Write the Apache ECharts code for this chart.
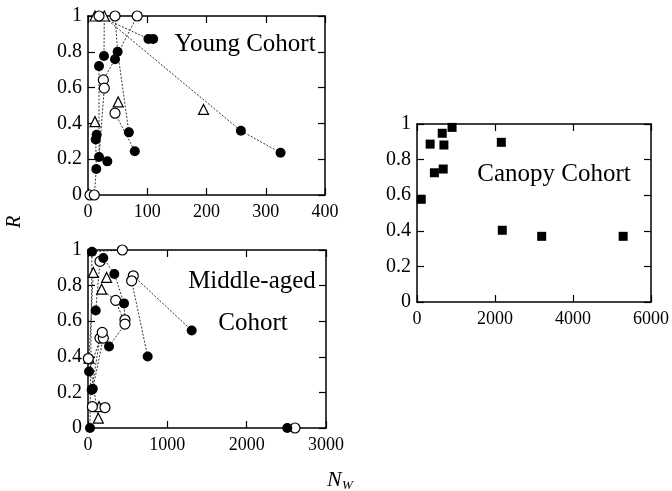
<!doctype html>
<html>
<head>
<meta charset="utf-8">
<title>R vs Nw</title>
<style>
  html, body { margin: 0; padding: 0; background: #fff; }
  #main { width: 672px; height: 491px; }
</style>
</head>
<body>
<div id="main"></div>
<script src="https://cdn.jsdelivr.net/npm/echarts@6/dist/echarts.min.js"></script>
<script>
// young cohort
var youngFilled = [[14, 0.145], [13, 0.31], [14.6, 0.336], [18.6, 0.212], [32.6, 0.188], [18.6, 0.72], [27, 0.777],
  [45.6, 0.758], [50, 0.80], [69, 0.35], [79, 0.244], [102, 0.872], [110, 0.872], [258, 0.359], [325, 0.236]];
var youngOpen = [[3.4, 0], [10.6, 0], [18.6, 1], [45.6, 1], [83, 1], [25.9, 0.643], [27.5, 0.597], [45.6, 0.457]];
var youngTri = [[11.8, 1], [27.5, 1], [11.8, 0.41], [51, 0.52], [195, 0.478]];
var youngLines = [
  [[27.5, 1], [27, 0.777]],
  [[45.6, 1], [50, 0.80], [69, 0.35]],
  [[83, 1], [45.6, 0.758], [25.9, 0.643], [27.5, 0.597], [18.6, 0.212], [32.6, 0.188]],
  [[10.6, 0], [14, 0.145], [13, 0.31], [14.6, 0.336]],
  [[18.6, 0.72], [18.6, 0.212]],
  [[18.6, 1], [102, 0.872]],
  [[25, 1], [258, 0.359], [325, 0.236]],
  [[45.6, 0.457], [79, 0.244]]
];

// middle-aged cohort
var midFilled = [[25, 0], [46, 0.214], [60, 0.22], [13, 0.317], [97, 0.66], [50, 0.99], [193, 0.955], [332, 0.865],
  [454, 0.70], [265, 0.458], [752, 0.402], [1307, 0.548], [2512, 0]];
var midOpen = [[4, 0.39], [55, 0.12], [214, 0.115], [151, 0.505], [193, 0.505], [180, 0.537], [151, 0.936], [433, 1],
  [349, 0.717], [466, 0.608], [466, 0.584], [571, 0.855], [550, 0.827], [2609, 0]];
var midTri = [[13, 0.392], [67, 0.874], [235, 0.846], [172, 0.78], [139, 0.12], [130, 0.055]];
var midLines = [
  [[25, 0], [50, 0.99], [433, 1]],
  [[46, 0.214], [151, 0.505]],
  [[60, 0.22], [193, 0.505]],
  [[13, 0.317], [180, 0.537]],
  [[130, 0.055], [13, 0.392], [67, 0.874]],
  [[151, 0.936], [97, 0.66]],
  [[151, 0.936], [193, 0.955], [332, 0.865], [454, 0.70], [466, 0.608]],
  [[172, 0.78], [349, 0.717], [466, 0.584], [265, 0.458]],
  [[571, 0.855], [1307, 0.548]],
  [[550, 0.827], [752, 0.402]],
  [[2512, 0], [2609, 0]]
];

// canopy cohort
var canopySquares = [[109, 0.577], [337, 0.887], [446, 0.726], [647, 0.948], [690, 0.882], [672, 0.747],
  [899, 0.981], [2162, 0.897], [2187, 0.403], [3197, 0.369], [5286, 0.369]];

var xMax = [400, 3000, 6000];
var xStep = [100, 1000, 2000];

var serif = '"Liberation Serif", serif';

var grids = [
  { left: 88, top: 16, width: 237, height: 179 },
  { left: 88, top: 250, width: 238, height: 178 },
  { left: 417, top: 124, width: 237, height: 178 }
];

function plain(v) { return String(v); }

function makeX(g, pos) {
  return {
    type: 'value', gridIndex: g, position: pos, min: 0, max: xMax[g], interval: xStep[g],
    axisLine: { show: true, onZero: false, lineStyle: { color: '#000', width: 1.5 } },
    axisTick: { show: true, inside: true, length: 7, lineStyle: { color: '#000', width: 1.2 } },
    axisLabel: { show: pos == 'bottom', color: '#000', fontFamily: serif, fontSize: 18, margin: 8, formatter: plain },
    splitLine: { show: false }
  };
}
function makeY(g, pos) {
  return {
    type: 'value', gridIndex: g, position: pos, min: 0, max: 1, interval: 0.2,
    axisLine: { show: true, onZero: false, lineStyle: { color: '#000', width: 1.5 } },
    axisTick: { show: true, inside: true, length: 7, lineStyle: { color: '#000', width: 1.2 } },
    axisLabel: { show: pos == 'left', color: '#000', fontFamily: serif, fontSize: 20, margin: 6, formatter: plain },
    splitLine: { show: false }
  };
}

var xAxes = [], yAxes = [];
for (var g = 0; g < 3; g++) {
  xAxes.push(makeX(g, 'bottom'), makeX(g, 'top'));
  yAxes.push(makeY(g, 'left'), makeY(g, 'right'));
}

var series = [];
function addLines(list, g) {
  for (var i = 0; i < list.length; i++) {
    series.push({
      type: 'line', xAxisIndex: g * 2, yAxisIndex: g * 2, data: list[i], symbol: 'none', z: 1,
      lineStyle: { color: '#000', width: 0.8, type: [2, 1.6] }
    });
  }
}
function addMarks(data, g, symbol, size, filled) {
  series.push({
    type: 'scatter', xAxisIndex: g * 2, yAxisIndex: g * 2, data: data, symbol: symbol, symbolSize: size, z: 3,
    itemStyle: filled ? { color: '#000', opacity: 1 } : { color: '#fff', borderColor: '#000', borderWidth: 1.2, opacity: 1 }
  });
}

addLines(youngLines, 0);
addMarks(youngTri, 0, 'triangle', 10, false);
addMarks(youngOpen, 0, 'circle', 10, false);
addMarks(youngFilled, 0, 'circle', 10, true);

addLines(midLines, 1);
addMarks(midTri, 1, 'triangle', 10, false);
addMarks(midOpen, 1, 'circle', 10, false);
addMarks(midFilled, 1, 'circle', 10, true);

addMarks(canopySquares, 2, 'rect', 9, true);

function label(txt, x, y, size) {
  return {
    type: 'text', x: x, y: y, z: 10,
    style: { text: txt, fill: '#000', font: size + 'px ' + serif, textAlign: 'center', textVerticalAlign: 'middle' }
  };
}

var myChart = echarts.init(document.getElementById('main'));
myChart.setOption({
  animation: false,
  backgroundColor: '#fff',
  textStyle: { fontFamily: serif },
  grid: grids,
  xAxis: xAxes,
  yAxis: yAxes,
  series: series,
  graphic: [
    label('Young Cohort', 245, 44, 25),
    label('Middle-aged', 252, 281, 25),
    label('Cohort', 253, 323, 25),
    label('Canopy Cohort', 554, 174, 25),
    { type: 'text', x: 15, y: 222, rotation: Math.PI / 2,
      style: { text: 'R', fill: '#000', font: 'italic 20px ' + serif, textAlign: 'center', textVerticalAlign: 'middle' } },
    { type: 'text', x: 327, y: 480,
      style: { text: 'N', fill: '#000', font: 'italic 22px ' + serif, textAlign: 'left', textVerticalAlign: 'middle' } },
    { type: 'text', x: 342, y: 486,
      style: { text: 'W', fill: '#000', font: 'italic 13px ' + serif, textAlign: 'left', textVerticalAlign: 'middle' } }
  ]
});
</script>
</body>
</html>
